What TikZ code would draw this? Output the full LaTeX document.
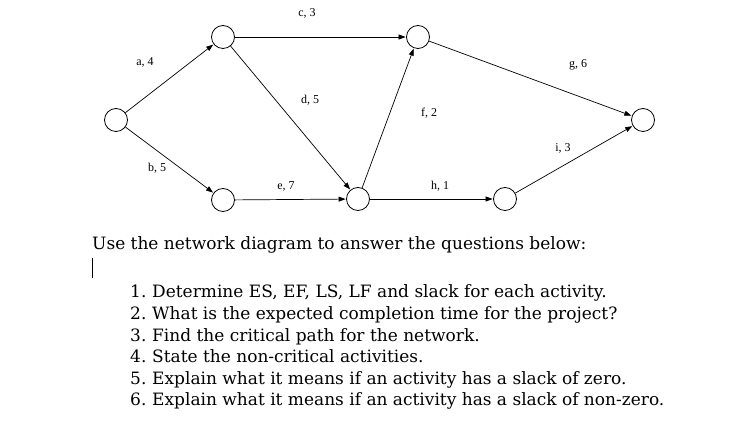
\documentclass[tikz,border=0pt]{standalone}
\usepackage{fontspec}
\setmainfont{DejaVu Serif}
\newfontfamily\lblfont{Liberation Serif}
\usetikzlibrary{arrows.meta}
\begin{document}
\begin{tikzpicture}[x=1pt,y=-1pt,
  ev/.style={circle,draw,line width=0.8pt,minimum size=23pt,inner sep=0pt},
  act/.style={-{Triangle[length=7pt,width=5pt]},line width=0.7pt,shorten >=0.5pt},
  lbl/.style={font=\lblfont\fontsize{12}{14}\selectfont,inner sep=1pt},
  body/.style={font=\fontsize{17}{19}\selectfont,anchor=base west,inner sep=0pt}]
\useasboundingbox (0,0) rectangle (740,427);
\node[ev] (n1) at (116,120) {};
\node[ev] (n2) at (223,37) {};
\node[ev] (n3) at (223,200) {};
\node[ev] (n4) at (418,37) {};
\node[ev] (n5) at (358,199) {};
\node[ev] (n6) at (505,199) {};
\node[ev] (n7) at (643,120) {};
\draw[act] (n1) -- (n2);
\draw[act] (n1) -- (n3);
\draw[act] (n2) -- (n4);
\draw[act] (n2) -- (n5);
\draw[act] (n3) -- (n5);
\draw[act] (n5) -- (n4);
\draw[act] (n4) -- (n7);
\draw[act] (n5) -- (n6);
\draw[act] (n6) -- (n7);
\node[lbl] (la) at (145,62) {a, 4};
\node[lbl] (lb) at (157,168) {b, 5};
\node[lbl] (lc) at (307,13) {c, 3};
\node[lbl] (ld) at (310,100) {d, 5};
\node[lbl] (le) at (286,186) {e, 7};
\node[lbl] (lf) at (429,113) {f, 2};
\node[lbl] (lg) at (578,65) {g, 6};
\node[lbl] (lh) at (440,186) {h, 1};
\node[lbl] (li) at (563,148) {i, 3};
\node[body] (q) at (92,250) {Use the network diagram to answer the questions below:};
\coordinate (c1) at (92,258); \coordinate (c2) at (92,278);
\draw[line width=0.6pt] (c1) -- (c2);
\foreach \i/\t [count=\k from 0] in {1/{Determine ES, EF, LS, LF and slack for each activity.},
  2/{What is the expected completion time for the project?},
  3/{Find the critical path for the network.},
  4/{State the non-critical activities.},
  5/{Explain what it means if an activity has a slack of zero.},
  6/{Explain what it means if an activity has a slack of non-zero.}}{
  \node[body] (num\i) at (130,298+21.6*\k) {\i.};
  \node[body] (it\i) at (152,298+21.6*\k) {\t};
}
\end{tikzpicture}
\end{document}
